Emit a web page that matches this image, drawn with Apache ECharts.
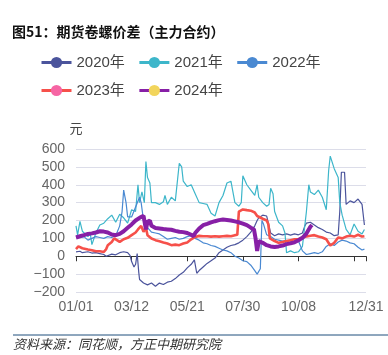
<!DOCTYPE html>
<html>
<head>
<meta charset="utf-8">
<script src="https://cdn.jsdelivr.net/npm/echarts@6/dist/echarts.min.js"></script>
<style>html,body{margin:0;padding:0;background:#fff}#c{width:388px;height:355px}</style>
</head>
<body>
<div id="c"></div>
<script>
// ---- data (day of year, spread in 元) ----
const seriesNames = ['2020年','2021年','2022年','2023年','2024年'];
const tickDays = [0,70,140,210,280,365];
const tickLabels = ['01/01','03/12','05/21','07/30','10/08','12/31'];

const y2020 = [[0,25],[5,28],[8,20],[10,22],[15,25],[20,18],[25,20],[30,15],[35,10],[38,0],[40,5],[45,12],[50,8],[55,20],[60,25],[65,20],[68,5],[70,-30],[73,-60],[75,-45],[77,15],[79,-90],[80,-130],[85,-150],[90,-160],[95,-150],[100,-168],[105,-150],[110,-158],[115,-145],[120,-140],[125,-125],[130,-105],[135,-90],[140,-65],[145,-45],[149,-20],[152,-95],[155,-80],[160,-60],[165,-40],[170,-25],[175,-10],[180,20],[185,35],[190,50],[195,60],[200,65],[205,75],[210,90],[215,110],[220,135],[225,170],[228,200],[230,215],[235,230],[240,225],[243,170],[245,130],[250,115],[255,125],[260,120],[265,125],[270,118],[275,125],[280,120],[285,130],[288,170],[290,185],[295,190],[300,175],[305,160],[310,150],[315,135],[320,130],[325,115],[330,120],[332,250],[334,470],[338,470],[340,290],[345,310],[350,300],[355,320],[360,290],[363,175]];

const y2021 = [[0,170],[2,120],[5,195],[8,140],[10,130],[15,110],[18,125],[20,65],[25,130],[30,175],[35,185],[40,210],[45,230],[50,190],[55,235],[60,215],[65,185],[70,260],[75,250],[78,400],[80,300],[83,360],[86,300],[88,530],[90,440],[93,410],[95,300],[100,300],[105,290],[110,305],[112,340],[115,290],[120,330],[125,310],[130,520],[133,500],[135,420],[140,390],[145,400],[150,350],[155,300],[160,295],[165,290],[170,240],[175,225],[180,300],[185,340],[190,410],[195,420],[200,300],[205,280],[208,300],[210,450],[215,400],[220,370],[225,340],[228,400],[230,330],[235,300],[240,280],[243,290],[245,380],[248,350],[250,250],[255,190],[260,170],[263,130],[265,20],[270,30],[275,20],[280,25],[285,55],[290,250],[293,400],[295,360],[300,345],[305,370],[310,330],[315,260],[318,480],[320,560],[325,490],[330,440],[332,300],[335,230],[340,150],[345,120],[350,180],[355,140],[360,125],[363,150]];

const y2022 = [[0,115],[5,105],[10,110],[15,90],[20,100],[25,110],[30,105],[35,100],[40,110],[45,105],[50,115],[55,170],[58,250],[60,370],[63,300],[65,220],[70,220],[75,275],[80,330],[82,300],[85,200],[90,160],[95,135],[100,130],[105,125],[110,110],[115,95],[120,100],[125,105],[130,95],[135,100],[140,110],[145,115],[150,100],[155,90],[160,75],[165,70],[170,60],[175,55],[180,45],[185,35],[190,30],[195,20],[200,0],[205,-10],[210,-25],[215,-30],[220,-50],[225,-80],[228,-100],[230,-90],[232,-70],[234,200],[236,180],[240,120],[245,110],[250,95],[255,90],[260,85],[265,88],[270,85],[275,80],[280,85],[285,30],[290,10],[295,15],[300,20],[305,15],[310,25],[315,55],[320,70],[325,60],[330,80],[335,90],[340,85],[345,75],[350,70],[355,50],[360,35],[363,40]];

const y2023 = [[0,40],[3,55],[5,60],[8,45],[10,42],[15,38],[20,34],[25,28],[30,28],[35,24],[38,40],[40,62],[45,80],[48,100],[50,95],[55,80],[60,95],[65,103],[70,118],[75,133],[78,150],[80,155],[82,170],[85,137],[88,160],[90,118],[95,99],[100,90],[105,84],[110,77],[115,71],[120,62],[125,65],[130,62],[135,71],[140,77],[145,95],[150,108],[155,114],[160,112],[165,112],[170,110],[175,112],[180,110],[185,112],[190,114],[195,112],[200,118],[203,120],[205,250],[210,262],[215,258],[220,255],[225,245],[228,225],[230,215],[235,210],[240,200],[242,180],[244,100],[250,85],[255,75],[260,80],[265,85],[270,90],[275,95],[280,95],[285,105],[290,110],[295,115],[300,118],[305,110],[310,105],[315,95],[320,60],[325,75],[330,105],[335,100],[340,110],[345,115],[350,110],[355,120],[360,110],[363,112]];

const y2024 = [[0,105],[5,112],[10,118],[15,125],[20,128],[25,133],[30,140],[35,138],[40,133],[45,122],[50,118],[55,125],[60,140],[65,159],[70,178],[75,200],[80,215],[85,226],[87,220],[88,150],[90,193],[93,200],[95,170],[100,158],[105,155],[110,152],[115,150],[120,148],[125,142],[130,137],[135,135],[140,130],[145,120],[148,112],[150,130],[155,155],[160,174],[165,181],[170,189],[175,196],[180,202],[185,205],[190,203],[195,200],[200,195],[205,190],[210,182],[215,174],[220,160],[224,150],[226,100],[228,30],[230,85],[235,75],[240,62],[245,55],[250,52],[255,55],[260,60],[265,68],[270,72],[275,78],[280,90],[285,103],[290,127],[295,165],[297,175]];

const seriesData = [y2020, y2021, y2022, y2023, y2024];
const lineColors = ['#4b549c','#3db6ca','#4a89d2','#f6504a','#871fa6'];
const dotColors  = ['#4b549c','#3db6ca','#4a89d2','#f665a4','#f2d55c'];
const lineWidths = [1.2,1.2,1.2,2.6,4];

const FONT = "'Liberation Sans','Noto Sans CJK SC',sans-serif";
const chart = echarts.init(document.getElementById('c'), null, {renderer:'canvas'});
chart.setOption({
  animation:false,
  textStyle:{fontFamily:FONT},
  title:{text:'图51：期货卷螺价差（主力合约）',left:12,top:25,padding:0,
    textStyle:{fontSize:14,fontWeight:'bold',color:'#111',fontFamily:"'Noto Sans CJK SC',sans-serif"}},
  legend:{left:35,top:50,width:330,itemWidth:30,itemHeight:14,itemGap:13,
    textStyle:{fontSize:15,color:'#444',fontFamily:FONT},
    lineStyle:{width:3},
    data:seriesNames},
  grid:{left:76,right:22,top:149,bottom:63},
  xAxis:{type:'value',min:0,max:365,interval:70,
    axisLine:{show:true,lineStyle:{color:'#333',width:1}},
    axisTick:{show:true,length:5,lineStyle:{color:'#333'}},
    splitLine:{show:false},
    axisLabel:{fontSize:14,color:'#666',margin:8,fontFamily:FONT,
      formatter:function(v){const i=tickDays.indexOf(v);return i<0?'':tickLabels[i];}}},
  yAxis:{type:'value',min:-200,max:600,interval:100,name:'元',nameGap:14,
    nameTextStyle:{fontSize:13,color:'#444',fontFamily:"'Noto Sans CJK SC',sans-serif"},
    axisLine:{show:false},axisTick:{show:false},
    splitLine:{lineStyle:{color:'#dcdde9',width:1}},
    axisLabel:{fontSize:14,color:'#666',margin:11,fontFamily:FONT,
      formatter:function(v){return v<0?'\u2212'+Math.abs(v):String(v);}}},
  series:seriesData.map(function(d,i){return {
    name:seriesNames[i],type:'line',data:d,showSymbol:false,symbol:'circle',
    lineStyle:{color:lineColors[i],width:lineWidths[i]},
    itemStyle:{color:dotColors[i]},z:2+i};}),
  graphic:[
    {type:'line',shape:{x1:13,y1:335,x2:388,y2:335},style:{stroke:'#1f4f7d',lineWidth:1}},
    {type:'text',left:13,top:338,style:{text:'资料来源：同花顺，方正中期研究院',
      font:"italic 13px 'Noto Sans CJK SC',sans-serif",fill:'#333'}}
  ]
});
</script>
</body>
</html>
